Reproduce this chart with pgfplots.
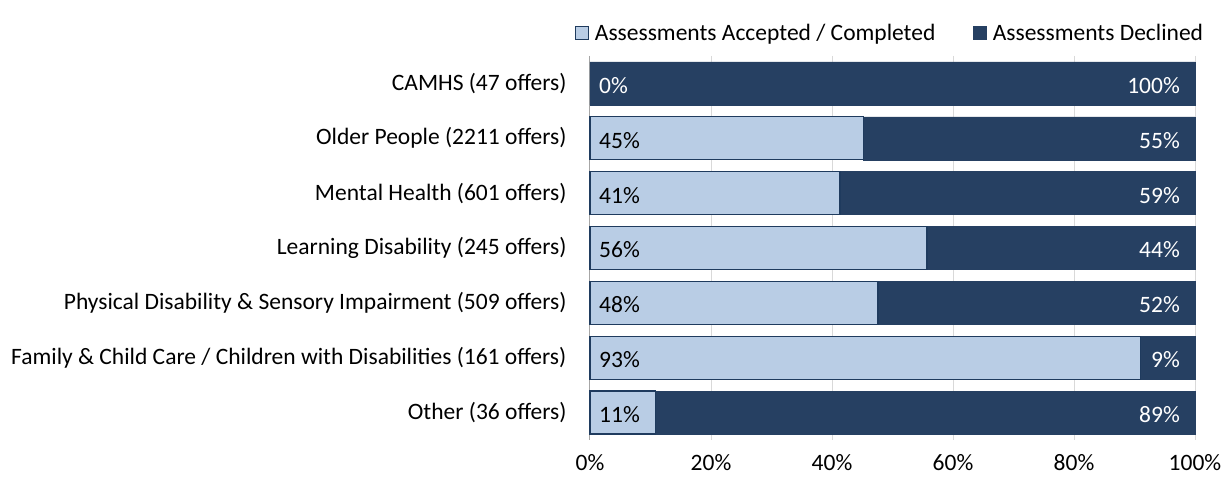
\documentclass[border=0pt]{standalone}
\usepackage{pgfplots}
\pgfplotsset{compat=1.18}
\usepackage{pgfplotstable}
\usepackage{fontspec}
\setmainfont{Carlito}
\definecolor{navy}{HTML}{264062}
\definecolor{lightb}{HTML}{B9CDE5}
\definecolor{edge}{HTML}{1F3B5E}
\definecolor{gridc}{HTML}{D9D9D9}
\newcommand{\cf}{\fontsize{23.5}{26}\selectfont}
\pgfplotstableread{
y acc dec la ld
0 0 100 0\% 100\%
1 45.2 54.8 45\% 55\%
2 41.3 58.7 41\% 59\%
3 55.7 44.3 56\% 44\%
4 47.6 52.4 48\% 52\%
5 91.0 9.0 93\% 9\%
6 10.8 89.2 11\% 89\%
}\data
\pgfplotsset{geom/.style={at={(590pt,38pt)}, anchor=south west,
  scale only axis, width=605pt, height=384pt,
  xmin=0, xmax=100, ymin=-0.5, ymax=6.5, y dir=reverse}}
\begin{document}
\begin{tikzpicture}[x=1pt,y=1pt]
\useasboundingbox (0,0) rectangle (1221,478);
\begin{axis}[
  geom,
  xbar stacked, bar width=43pt,
  ytick={0,...,6},
  yticklabels={CAMHS (47 offers),Older People (2211 offers),Mental Health (601 offers),Learning Disability (245 offers),Physical Disability \& Sensory Impairment (509 offers),Family \& Child Care / Children with Disabilities (161 offers),Other (36 offers)},
  xtick={0,20,...,100},
  xticklabel={\pgfmathprintnumber{\tick}\%},
  /pgf/number format/assume math mode=true,
  tick label style={font=\cf, text=black},
  yticklabel style={xshift=-20pt},
  xticklabel style={yshift=-11pt},
  major tick length=0pt,
  axis x line*=bottom, axis y line*=left,
  separate axis lines,
  x axis line style={draw=none},
  y axis line style={draw=gray!70, line width=1pt},
  xmajorgrids, grid style={gridc, line width=1pt},
  legend style={at={(1.017,1)}, anchor=south east, yshift=12pt, draw=none, fill=none,
    font=\cf, legend columns=2, /tikz/every even column/.append style={column sep=36pt},
    legend cell align=left, inner sep=0pt},
  legend image code/.code={\draw[#1] (0pt,-6.5pt) rectangle (13pt,6.5pt);},
  clip=false,
]
\addplot[fill=lightb, draw=edge, line width=1.3pt] table[x=acc,y=y]{\data};
\addlegendentry{\,Assessments Accepted / Completed}
\addplot[fill=navy, draw=navy, line width=0.5pt] table[x=dec,y=y]{\data};
\addlegendentry{\,Assessments Declined}
\end{axis}
\begin{axis}[geom, axis lines=none, clip=false]
\addplot[draw=none, mark=none, nodes near coords, point meta=explicit symbolic,
  nodes near coords style={anchor=west, font=\cf, inner sep=0pt, xshift=9pt, yshift=-2pt, text=black}]
  table[x expr=0, y=y, meta=la, skip coords between index={0}{1}]{\data};
\addplot[draw=none, mark=none, nodes near coords, point meta=explicit symbolic,
  nodes near coords style={anchor=west, font=\cf, inner sep=0pt, xshift=9pt, yshift=-2pt, text=white}]
  table[x expr=0, y=y, meta=la, skip coords between index={1}{7}]{\data};
\addplot[draw=none, mark=none, nodes near coords, point meta=explicit symbolic,
  nodes near coords style={anchor=east, font=\cf, inner sep=0pt, xshift=-15pt, yshift=-2pt, text=white}]
  table[x expr=100, y=y, meta=ld]{\data};
\end{axis}
\end{tikzpicture}
\end{document}
